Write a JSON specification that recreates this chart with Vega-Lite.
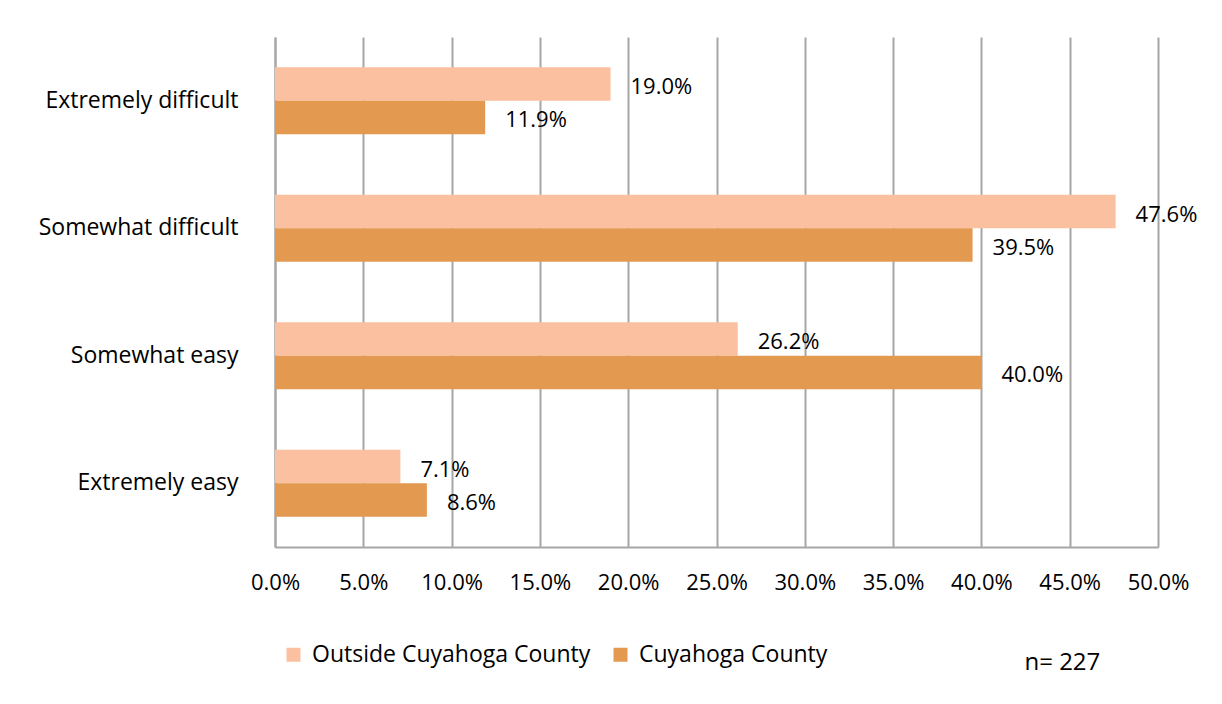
{
  "$schema": "https://vega.github.io/schema/vega-lite/v6.json",
  "autosize": "none",
  "width": 883,
  "height": 510,
  "padding": {"left": 275, "top": 37, "right": 64, "bottom": 157},
  "background": "white",
  "config": {
    "font": "Open Sans",
    "view": {"stroke": null},
    "axis": {"labelFont": "Open Sans", "labelColor": "#000000"}
  },
  "title": {
    "text": "n= 227",
    "orient": "bottom",
    "anchor": "end",
    "offset": -16,
    "dx": -97,
    "fontSize": 24,
    "fontWeight": "normal",
    "font": "Open Sans",
    "color": "#000000"
  },
  "data": {
    "values": [
      {"response": "Extremely difficult", "group": "Outside Cuyahoga County", "value": 0.190},
      {"response": "Extremely difficult", "group": "Cuyahoga County", "value": 0.119},
      {"response": "Somewhat difficult", "group": "Outside Cuyahoga County", "value": 0.476},
      {"response": "Somewhat difficult", "group": "Cuyahoga County", "value": 0.395},
      {"response": "Somewhat easy", "group": "Outside Cuyahoga County", "value": 0.262},
      {"response": "Somewhat easy", "group": "Cuyahoga County", "value": 0.400},
      {"response": "Extremely easy", "group": "Outside Cuyahoga County", "value": 0.071},
      {"response": "Extremely easy", "group": "Cuyahoga County", "value": 0.086}
    ]
  },
  "encoding": {
    "y": {
      "field": "response",
      "type": "nominal",
      "sort": ["Extremely difficult", "Somewhat difficult", "Somewhat easy", "Extremely easy"],
      "scale": {"paddingInner": 0.475, "paddingOuter": 0.2375},
      "axis": {
        "title": null,
        "domain": true,
        "domainColor": "#a6a6a6",
        "domainWidth": 2,
        "ticks": false,
        "labelFontSize": 23,
        "labelPadding": 37,
        "labelLimit": 300
      }
    },
    "yOffset": {
      "field": "group",
      "type": "nominal",
      "sort": ["Outside Cuyahoga County", "Cuyahoga County"]
    },
    "x": {
      "field": "value",
      "type": "quantitative",
      "scale": {"domain": [0, 0.5], "nice": false},
      "axis": {
        "title": null,
        "format": ".1%",
        "values": [0, 0.05, 0.1, 0.15, 0.2, 0.25, 0.3, 0.35, 0.4, 0.45, 0.5],
        "grid": true,
        "gridColor": "#a6a6a6",
        "gridWidth": 2,
        "domainColor": "#a6a6a6",
        "domainWidth": 2,
        "ticks": false,
        "labelFlush": false,
        "labelFontSize": 22,
        "labelPadding": 25
      }
    }
  },
  "layer": [
    {
      "mark": {"type": "bar"},
      "encoding": {
        "color": {
          "field": "group",
          "type": "nominal",
          "sort": ["Outside Cuyahoga County", "Cuyahoga County"],
          "scale": {"domain": ["Outside Cuyahoga County", "Cuyahoga County"], "range": ["#fac09f", "#e3994f"]},
          "legend": {
            "title": null,
            "orient": "none",
            "direction": "horizontal",
            "legendX": 7,
            "legendY": 606,
            "symbolType": "square",
            "symbolSize": 196,
            "symbolStrokeWidth": 0,
            "labelFontSize": 23,
            "labelFont": "Open Sans",
            "labelColor": "#000000",
            "columnPadding": 18,
            "labelOffset": 7,
            "labelLimit": 400
          }
        }
      }
    },
    {
      "mark": {"type": "text", "align": "left", "dx": 20, "dy": 3, "fontSize": 22, "font": "Open Sans", "color": "#000000"},
      "encoding": {
        "text": {"field": "value", "type": "quantitative", "format": ".1%"}
      }
    }
  ]
}
